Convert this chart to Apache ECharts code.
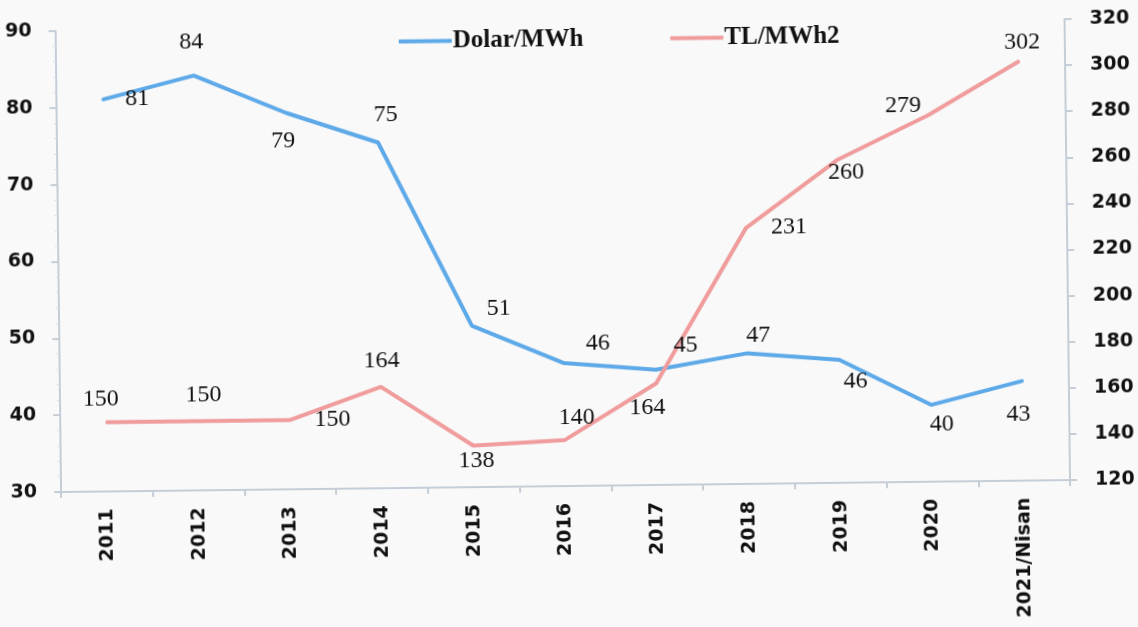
<!DOCTYPE html>
<html>
<head>
<meta charset="utf-8">
<script src="https://cdn.jsdelivr.net/npm/echarts@6/dist/echarts.min.js"></script>
<style>
  html, body { margin: 0; padding: 0; background: #f9f9f9; }
  #chart { width: 1138px; height: 627px; transform: rotate(-0.68deg); }
</style>
</head>
<body>
<div id="chart"></div>
<script>
var years = ['2011', '2012', '2013', '2014', '2015', '2016', '2017', '2018', '2019', '2020', '2021/Nisan'];
var dolarMWh = [81, 84, 79, 75, 51, 46, 45, 47, 46, 40, 43];
var tlMWh = [150, 150, 150, 164, 138, 140, 164, 231, 260, 279, 302];

// label offsets from each point, as placed in the picture
var dolarOffsets = [[35, 0], [-2, -33], [-3, 28], [8, -28], [27, -17], [34, -19], [30, -24], [11, -18], [16, 22], [10, 20], [-5, 34]];
var tlOffsets = [[-5, -23], [6, -26], [43, 0], [1, -26], [3, 15], [12, -22], [-9, 24], [43, 0], [9, 12], [-25, -10], [3, -19]];

var chart = echarts.init(document.getElementById('chart'));

function points(values, offsets) {
    return values.map(function (v, i) {
        return {
            value: v,
            label: { offset: offsets[i] }
        };
    });
}

var labelStyle = {
    show: true,
    position: 'inside',
    align: 'center',
    verticalAlign: 'middle',
    color: '#111',
    fontFamily: 'Liberation Serif',
    fontSize: 24
};

var axisLabel = {
    color: '#111',
    fontFamily: 'DejaVu Sans',
    fontWeight: 'bold',
    fontSize: 19
};
var axisLine = { show: true, lineStyle: { color: '#c5ced7', width: 2 } };

option = {
    backgroundColor: '#f9f9f9',
    animation: false,
    legend: {
        top: 22,
        left: 397,
        itemWidth: 53,
        itemHeight: 4,
        itemGap: 87,
        icon: 'rect',
        textStyle: {
            color: '#111',
            fontFamily: 'Liberation Serif',
            fontWeight: 'bold',
            fontSize: 25,
            padding: [0, 0, 0, -4]
        },
        data: ['Dolar/MWh', 'TL/MWh2']
    },
    grid: { left: 59, right: 70, top: 25, bottom: 141 },
    xAxis: {
        type: 'category',
        data: years,
        boundaryGap: true,
        axisLine: axisLine,
        axisTick: { show: true, length: 6, lineStyle: { color: '#c5ced7', width: 2 } },
        axisLabel: Object.assign({ rotate: 90, margin: 17, interval: 0 }, axisLabel),
        splitLine: { show: false }
    },
    yAxis: [
        {
            type: 'value',
            min: 30,
            max: 90,
            interval: 10,
            axisLine: axisLine,
            axisTick: { show: true, length: 7, lineStyle: { color: '#c5ced7', width: 2 } },
            minorTick: { show: true, splitNumber: 5, length: 3, lineStyle: { color: '#d8dee4' } },
            axisLabel: Object.assign({ margin: 24 }, axisLabel),
            splitLine: { show: false }
        },
        {
            type: 'value',
            min: 120,
            max: 320,
            interval: 20,
            position: 'right',
            axisLine: axisLine,
            axisTick: { show: true, length: 7, lineStyle: { color: '#c5ced7', width: 2 } },
            axisLabel: Object.assign({ margin: 25 }, axisLabel),
            splitLine: { show: false }
        }
    ],
    series: [
        {
            name: 'Dolar/MWh',
            type: 'line',
            yAxisIndex: 0,
            symbol: 'circle',
            symbolSize: 2,
            color: '#5ea9e8',
            lineStyle: { color: '#5ea9e8', width: 4 },
            label: labelStyle,
            data: points(dolarMWh, dolarOffsets)
        },
        {
            name: 'TL/MWh2',
            type: 'line',
            yAxisIndex: 1,
            symbol: 'circle',
            symbolSize: 2,
            color: '#f09c9c',
            lineStyle: { color: '#f09c9c', width: 4 },
            label: labelStyle,
            data: points(tlMWh, tlOffsets)
        }
    ]
};
chart.setOption(option);
window.addEventListener('resize', chart.resize);
</script>
</body>
</html>
